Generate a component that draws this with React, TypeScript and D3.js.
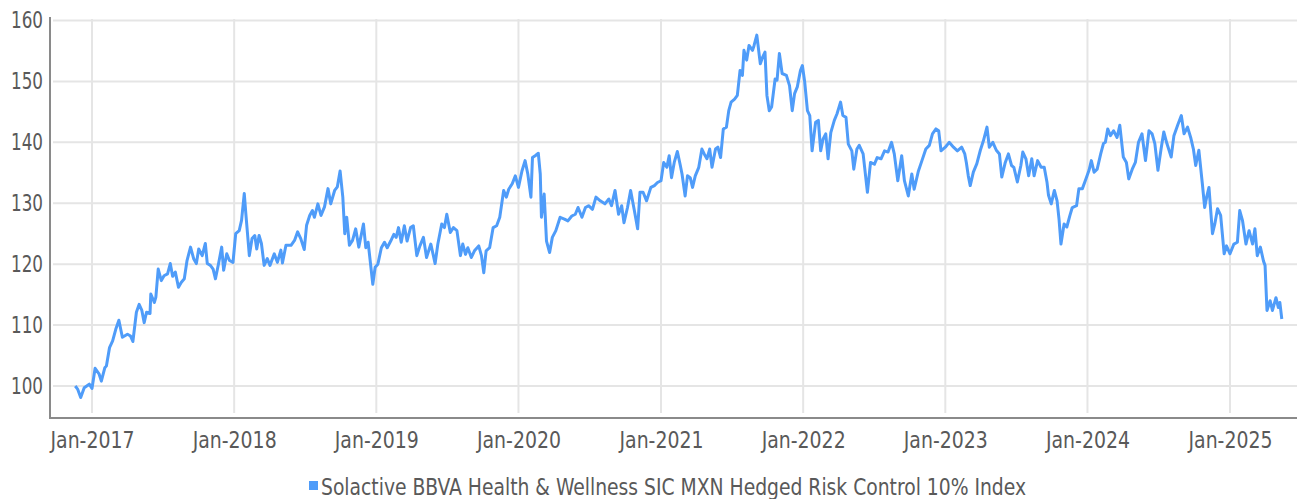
import * as d3 from "d3";
import { useEffect, useRef } from "react";

// series, roughly weekly where it wiggles
const dates = [
  "2016-11-19","2016-11-25","2016-12-03","2016-12-12","2016-12-25","2017-01-01","2017-01-09","2017-01-19","2017-01-25","2017-02-03",
  "2017-02-07","2017-02-15","2017-02-23","2017-03-03","2017-03-11","2017-03-20","2017-04-02","2017-04-10","2017-04-16","2017-04-25",
  "2017-05-02","2017-05-09","2017-05-15","2017-05-21","2017-05-30","2017-06-01","2017-06-10","2017-06-14","2017-06-20","2017-06-28",
  "2017-07-05","2017-07-14","2017-07-21","2017-07-27","2017-08-03","2017-08-11","2017-08-18","2017-08-26","2017-09-02","2017-09-11",
  "2017-09-19","2017-09-26","2017-10-02","2017-10-11","2017-10-19","2017-10-24","2017-11-01","2017-11-08","2017-11-14","2017-11-22",
  "2017-11-30","2017-12-05","2017-12-13","2017-12-20","2017-12-29","2018-01-05","2018-01-14","2018-01-20","2018-01-27","2018-01-31",
  "2018-02-09","2018-02-16","2018-02-23","2018-02-28","2018-03-06","2018-03-12","2018-03-19","2018-03-27","2018-04-03","2018-04-14",
  "2018-04-22","2018-05-01","2018-05-05","2018-05-14","2018-05-27","2018-06-05","2018-06-13","2018-06-21","2018-06-30","2018-07-06",
  "2018-07-14","2018-07-21","2018-07-26","2018-08-04","2018-08-12","2018-08-21","2018-08-30","2018-09-06","2018-09-16","2018-09-23",
  "2018-09-30","2018-10-07","2018-10-12","2018-10-17","2018-10-24","2018-11-01","2018-11-09","2018-11-17","2018-11-29","2018-12-05",
  "2018-12-11","2018-12-23","2018-12-29","2019-01-05","2019-01-14","2019-01-22","2019-01-29","2019-02-07","2019-02-15","2019-02-21",
  "2019-02-27","2019-03-06","2019-03-14","2019-03-21","2019-03-30","2019-04-06","2019-04-15","2019-04-23","2019-05-02","2019-05-10",
  "2019-05-21","2019-06-01","2019-06-08","2019-06-18","2019-06-25","2019-07-01","2019-07-10","2019-07-18","2019-07-27","2019-08-05",
  "2019-08-11","2019-08-18","2019-08-24","2019-09-02","2019-09-10","2019-09-21","2019-09-28","2019-10-04","2019-10-10","2019-10-19",
  "2019-10-28","2019-11-06","2019-11-14","2019-11-24","2019-12-01","2019-12-07","2019-12-16","2019-12-24","2020-01-01","2020-01-10",
  "2020-01-18","2020-01-25","2020-02-02","2020-02-06","2020-02-13","2020-02-21","2020-02-26","2020-02-29","2020-03-07","2020-03-13",
  "2020-03-21","2020-03-28","2020-04-06","2020-04-17","2020-04-28","2020-05-07","2020-05-17","2020-05-26","2020-06-02","2020-06-12",
  "2020-06-21","2020-06-29","2020-07-09","2020-07-18","2020-07-29","2020-08-10","2020-08-20","2020-08-27","2020-09-05","2020-09-14",
  "2020-09-22","2020-09-28","2020-10-07","2020-10-15","2020-10-24","2020-11-02","2020-11-08","2020-11-16","2020-11-25","2020-12-06",
  "2020-12-15","2020-12-23","2021-01-01","2021-01-08","2021-01-16","2021-01-22","2021-01-28","2021-02-04","2021-02-12","2021-02-19",
  "2021-02-24","2021-03-04","2021-03-10","2021-03-17","2021-03-23","2021-03-30","2021-04-08","2021-04-16","2021-04-22","2021-04-29",
  "2021-05-06","2021-05-12","2021-05-21","2021-05-27","2021-06-03","2021-06-10","2021-06-18","2021-06-24","2021-06-30","2021-07-09",
  "2021-07-16","2021-07-23","2021-07-29","2021-08-02","2021-08-09","2021-08-15","2021-08-24","2021-08-28","2021-09-04","2021-09-13",
  "2021-09-19","2021-09-25","2021-09-30","2021-10-06","2021-10-12","2021-10-21","2021-10-26","2021-11-01","2021-11-08","2021-11-19",
  "2021-11-27","2021-12-04","2021-12-10","2021-12-17","2021-12-25","2021-12-30","2022-01-05","2022-01-12","2022-01-18","2022-01-24",
  "2022-02-02","2022-02-09","2022-02-15","2022-02-21","2022-02-28","2022-03-06","2022-03-13","2022-03-22","2022-03-29","2022-04-07",
  "2022-04-13","2022-04-21","2022-04-27","2022-05-06","2022-05-11","2022-05-19","2022-05-25","2022-06-04","2022-06-15","2022-06-23",
  "2022-07-03","2022-07-10","2022-07-20","2022-07-29","2022-08-07","2022-08-16","2022-08-23","2022-09-01","2022-09-11","2022-09-18",
  "2022-09-28","2022-10-07","2022-10-13","2022-10-24","2022-11-02","2022-11-12","2022-11-21","2022-11-29","2022-12-08","2022-12-15",
  "2022-12-21","2023-01-01","2023-01-11","2023-01-22","2023-02-01","2023-02-12","2023-02-20","2023-02-24","2023-03-01","2023-03-06",
  "2023-03-14","2023-03-23","2023-04-01","2023-04-09","2023-04-18","2023-04-24","2023-05-03","2023-05-12","2023-05-20","2023-05-26",
  "2023-06-04","2023-06-12","2023-06-20","2023-06-26","2023-07-05","2023-07-14","2023-07-19","2023-07-27","2023-08-03","2023-08-11",
  "2023-08-17","2023-08-26","2023-09-04","2023-09-12","2023-09-19","2023-09-23","2023-09-30","2023-10-08","2023-10-15","2023-10-20",
  "2023-10-25","2023-11-02","2023-11-09","2023-11-17","2023-11-23","2023-12-04","2023-12-10","2023-12-19","2023-12-28","2024-01-05",
  "2024-01-11","2024-01-18","2024-01-26","2024-02-04","2024-02-11","2024-02-16","2024-02-22","2024-02-29","2024-03-08","2024-03-17",
  "2024-03-24","2024-04-02","2024-04-10","2024-04-16","2024-04-25","2024-05-03","2024-05-11","2024-05-20","2024-05-29","2024-06-07",
  "2024-06-15","2024-06-22","2024-06-30","2024-07-08","2024-07-15","2024-07-23","2024-08-03","2024-08-10","2024-08-20","2024-08-29",
  "2024-09-05","2024-09-14","2024-09-22","2024-09-29","2024-10-05","2024-10-13","2024-10-22","2024-10-28","2024-11-02","2024-11-08",
  "2024-11-17","2024-11-23","2024-11-30","2024-12-08","2024-12-17","2024-12-23","2025-01-01","2025-01-11","2025-01-20","2025-01-26",
  "2025-02-02","2025-02-11","2025-02-19","2025-02-28","2025-03-06","2025-03-12","2025-03-20","2025-03-28","2025-04-01","2025-04-06",
  "2025-04-14","2025-04-20","2025-04-29","2025-05-05","2025-05-09","2025-05-14",
];

const values = [
  100.0,99.5,98.1,99.7,100.3,99.6,102.9,102.0,100.8,103.0,
  103.3,106.3,107.4,109.3,110.8,108.0,108.5,108.2,107.3,112.1,
  113.4,112.4,110.4,112.1,111.9,115.1,113.7,114.6,119.2,117.3,
  118.1,118.4,120.1,118.0,118.7,116.2,117.0,117.6,120.6,122.8,
  120.9,120.1,122.5,121.4,123.4,120.1,119.8,119.2,117.6,120.1,
  122.8,119.0,121.7,120.6,120.3,125.0,125.5,127.2,131.6,128.3,
  121.4,124.2,124.7,122.5,124.7,123.4,119.8,120.9,119.8,121.7,
  120.3,122.3,120.2,123.1,123.1,123.9,125.3,124.2,122.4,126.4,
  128.0,128.8,127.7,129.9,128.0,129.4,132.4,129.9,132.1,132.7,
  135.3,131.0,125.0,127.7,123.1,123.9,125.8,122.8,126.6,122.7,
  123.6,116.7,119.5,120.0,122.7,123.6,122.7,123.8,124.9,124.4,
  126.0,123.6,126.3,123.8,126.0,126.3,121.4,123.0,124.4,121.1,
  123.3,120.1,123.3,126.6,126.0,128.2,125.2,126.0,125.5,121.4,
  123.3,121.6,122.7,121.1,122.2,123.0,121.4,118.6,122.2,122.7,
  126.0,126.3,127.7,132.1,131.0,132.3,133.2,134.5,132.6,135.3,
  137.0,134.8,131.0,137.5,137.8,138.2,134.8,127.7,131.5,123.8,
  121.9,124.4,125.5,127.7,127.4,127.1,127.9,128.2,129.3,127.7,
  129.3,129.6,129.0,131.0,130.4,129.9,130.7,129.6,132.1,128.2,
  129.6,126.8,129.3,132.1,129.0,125.8,131.8,131.8,130.4,132.6,
  132.9,133.4,133.7,136.7,135.9,137.8,134.2,136.7,138.5,136.4,
  134.8,131.2,134.5,134.2,132.6,134.5,135.9,138.9,138.1,137.3,
  138.9,135.9,138.9,139.2,137.5,142.2,142.5,145.2,146.6,147.1,
  147.7,151.8,151.0,155.1,153.5,155.9,155.1,155.9,157.6,152.9,
  154.0,154.8,147.7,145.2,145.8,150.4,150.2,154.6,151.3,151.0,
  149.3,145.2,148.0,149.1,151.8,152.6,149.9,145.2,144.4,138.6,
  143.3,143.6,138.6,140.5,141.4,137.3,141.6,143.6,144.7,146.6,
  144.4,144.1,139.7,138.6,135.6,138.9,139.5,138.1,131.8,136.7,
  136.4,137.5,137.3,138.6,138.4,140.0,138.1,133.7,137.8,133.7,
  131.2,134.8,132.3,135.3,137.0,138.9,139.5,141.4,142.2,141.9,
  138.6,139.2,140.0,139.2,138.6,139.2,138.1,136.7,134.5,132.9,
  135.1,136.5,138.7,140.3,142.5,139.2,140.0,138.7,138.1,134.3,
  136.7,138.1,136.2,135.9,133.5,136.2,138.4,137.3,134.5,137.3,
  134.5,137.0,135.9,135.9,133.5,131.3,129.9,132.1,130.4,127.4,
  123.3,126.6,126.1,128.0,129.3,129.6,132.4,132.4,134.0,135.4,
  137.0,135.1,135.6,138.1,139.8,140.0,142.2,141.1,141.9,140.8,
  142.8,137.6,136.7,134.0,135.6,136.7,140.0,141.4,137.0,141.9,
  141.4,139.8,135.4,138.9,141.7,139.8,137.6,141.1,142.9,144.4,
  141.4,142.5,140.8,138.9,136.2,138.7,133.2,129.3,131.0,132.6,
  125.0,126.6,129.1,128.0,121.7,123.0,121.7,123.3,123.6,128.8,
  127.2,123.3,125.5,123.3,125.8,121.4,122.8,120.5,119.8,112.4,
  114.0,112.4,114.5,112.9,113.7,111.0,
];

const yTicks = [100, 110, 120, 130, 140, 150, 160];
const xTickYears = [2017, 2018, 2019, 2020, 2021, 2022, 2023, 2024, 2025];
const seriesName = "Solactive BBVA Health & Wellness SIC MXN Hedged Risk Control 10% Index";

const LINE = "#4f9cf9";
const GRID = "#e5e5e5";
const AXIS = "#8a8a8a";
const TEXT = "#595959";
const FONT = "'DejaVu Sans Condensed', 'Liberation Sans', sans-serif";

export default function App() {
  const svgRef = useRef<SVGSVGElement>(null);
  const width = 1297;
  const height = 499;

  useEffect(() => {
    const svg = d3.select(svgRef.current);
    svg.selectAll("*").remove();

    const parse = d3.utcParse("%Y-%m-%d");
    const data = dates.map((d, i) => ({ date: parse(d) as Date, value: values[i] }));

    const x = d3
      .scaleUtc()
      .domain([new Date(Date.UTC(2017, 0, 1)), new Date(Date.UTC(2025, 0, 1))])
      .range([92, 1230]);
    const y = d3.scaleLinear().domain([100, 160]).range([386, 20.5]);

    const axisLeftX = 50;
    const axisBottomY = 418;

    // horizontal grid
    svg
      .append("g")
      .selectAll("line")
      .data(yTicks)
      .join("line")
      .attr("x1", axisLeftX + 3)
      .attr("x2", width)
      .attr("y1", (d) => y(d))
      .attr("y2", (d) => y(d))
      .attr("stroke", GRID)
      .attr("stroke-width", 2);

    // vertical grid
    const yearDates = xTickYears.map((yr) => new Date(Date.UTC(yr, 0, 1)));
    svg
      .append("g")
      .selectAll("line")
      .data(yearDates)
      .join("line")
      .attr("x1", (d) => x(d))
      .attr("x2", (d) => x(d))
      .attr("y1", 19)
      .attr("y2", axisBottomY - 5)
      .attr("stroke", GRID)
      .attr("stroke-width", 2);

    // axes (condensed face squeezed a little to match the narrow original)
    const yAxis = d3
      .axisLeft(y)
      .tickValues(yTicks)
      .tickSize(0)
      .tickPadding(7)
      .tickFormat((d) => String(d));
    const gy = svg.append("g").attr("transform", `translate(${axisLeftX},0)`).call(yAxis);
    gy.select(".domain").remove();
    gy.selectAll("text")
      .attr("font-family", FONT)
      .attr("font-size", 23)
      .attr("fill", TEXT)
      .attr("textLength", 32)
      .attr("lengthAdjust", "spacingAndGlyphs");

    const xAxis = d3
      .axisBottom(x)
      .tickValues(yearDates)
      .tickSize(0)
      .tickPadding(14)
      .tickFormat((d) => d3.utcFormat("%b-%Y")(d as Date));
    const gx = svg.append("g").attr("transform", `translate(0,${axisBottomY})`).call(xAxis);
    gx.select(".domain").remove();
    gx.selectAll("text")
      .attr("font-family", FONT)
      .attr("font-size", 23)
      .attr("fill", TEXT)
      .attr("textLength", 84)
      .attr("lengthAdjust", "spacingAndGlyphs");

    svg
      .append("line")
      .attr("x1", axisLeftX)
      .attr("x2", axisLeftX)
      .attr("y1", 17)
      .attr("y2", axisBottomY)
      .attr("stroke", AXIS)
      .attr("stroke-width", 2);
    svg
      .append("line")
      .attr("x1", axisLeftX - 1)
      .attr("x2", width)
      .attr("y1", axisBottomY)
      .attr("y2", axisBottomY)
      .attr("stroke", AXIS)
      .attr("stroke-width", 2);

    // series
    const line = d3
      .line<{ date: Date; value: number }>()
      .x((d) => x(d.date))
      .y((d) => y(d.value));
    svg
      .append("path")
      .datum(data)
      .attr("d", line)
      .attr("fill", "none")
      .attr("stroke", LINE)
      .attr("stroke-width", 3)
      .attr("stroke-linejoin", "round");

    // legend
    const legend = svg.append("g").attr("transform", "translate(309,481)");
    legend.append("rect").attr("width", 9).attr("height", 9).attr("fill", LINE);
    legend
      .append("text")
      .attr("x", 12)
      .attr("y", 14)
      .attr("font-family", FONT)
      .attr("font-size", 23)
      .attr("fill", TEXT)
      .attr("textLength", 705)
      .attr("lengthAdjust", "spacingAndGlyphs")
      .text(seriesName);
  }, []);

  return (
    <svg
      ref={svgRef}
      width={width}
      height={height}
      style={{ position: "absolute", left: 0, top: 0, background: "#fff" }}
    />
  );
}
